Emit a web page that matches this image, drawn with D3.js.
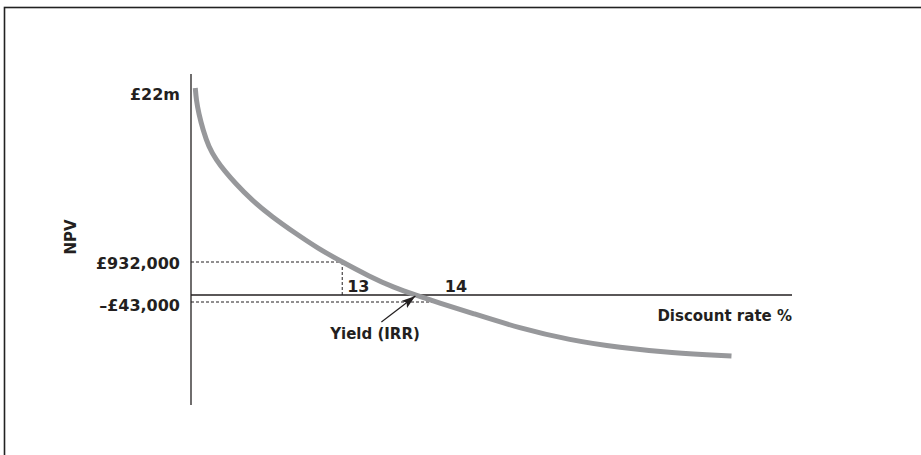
<!DOCTYPE html>
<html>
<head>
<meta charset="utf-8">
<script src="https://d3js.org/d3.v7.min.js"></script>
<style>
  body { margin: 0; background: #fff; }
  svg text { font-family: "DejaVu Sans", sans-serif; font-weight: bold; fill: #231f20; }
</style>
</head>
<body>
<svg width="921" height="455"></svg>
<script>
// discount rate (%) and NPV (£m)
var rates = [11.494, 11.504, 11.529, 11.573, 11.631, 11.709, 11.795, 11.901, 12.07, 12.28, 12.52, 12.75, 13.00, 13.27, 13.54, 13.75, 14.00, 14.31, 14.82, 15.33, 15.85, 16.36, 16.99];
var npv   = [22.0, 20.55, 18.94, 16.91, 14.89, 13.28, 11.95, 10.50, 8.44, 6.42, 4.41, 2.59, 0.932, 0.537, 0.198, 0.0, -0.098, -0.618, -1.483, -2.124, -2.546, -2.82, -3.0];

// y tick values and labels (chart is schematic, not to scale)
var yTicks = [22, 0.932, -0.043];
var yLabels = ["£22m", "£932,000", "–£43,000"];

// x tick values and labels
var xTicks = [13, 14];
var xLabels = ["13", "14"];

var irr = 13.75;

var svg = d3.select('svg');

// border
svg.append('rect')
    .attr('x', 4.5).attr('y', 7.5)
    .attr('width', 940).attr('height', 470)
    .attr('fill', 'none')
    .attr('stroke', '#222')
    .attr('stroke-width', 1.6);

var scaleX = d3.scaleLinear().domain([11.45, 17.6]).range([191, 791]);
// piecewise scale, the drawing is schematic
var scaleY = d3.scaleLinear().domain([-3, -0.043, 0, 0.932, 22]).range([356, 302, 295, 262, 88]);

// axes
svg.append('line')
    .attr('x1', scaleX(11.45)).attr('x2', scaleX(11.45))
    .attr('y1', 74).attr('y2', 405)
    .attr('stroke', '#231f20').attr('stroke-width', 1.3);

svg.append('line')
    .attr('x1', scaleX(11.45)).attr('x2', 792)
    .attr('y1', scaleY(0)).attr('y2', scaleY(0))
    .attr('stroke', '#231f20').attr('stroke-width', 1.3);

// dashed guide lines
var dash = '3,2';
svg.append('line')
    .attr('x1', scaleX(11.45)).attr('x2', scaleX(xTicks[0]))
    .attr('y1', scaleY(yTicks[1])).attr('y2', scaleY(yTicks[1]))
    .attr('stroke', '#231f20').attr('stroke-dasharray', dash);
svg.append('line')
    .attr('x1', scaleX(xTicks[0])).attr('x2', scaleX(xTicks[0]))
    .attr('y1', scaleY(yTicks[1])).attr('y2', scaleY(0))
    .attr('stroke', '#231f20').attr('stroke-dasharray', dash);
svg.append('line')
    .attr('x1', scaleX(11.45)).attr('x2', scaleX(xTicks[1]))
    .attr('y1', scaleY(yTicks[2])).attr('y2', scaleY(yTicks[2]))
    .attr('stroke', '#231f20').attr('stroke-dasharray', dash);

// NPV curve
var pts = rates.map(function(r, i){ return [r, npv[i]]; });
var line = d3.line()
    .x(function(d){ return scaleX(d[0]); })
    .y(function(d){ return scaleY(d[1]); })
    .curve(d3.curveBasis);

svg.append('path')
    .datum(pts)
    .attr('d', line)
    .attr('fill', 'none')
    .attr('stroke', '#97989b')
    .attr('stroke-width', 5);

// y labels
var nudge = [12, 7, 9];
svg.selectAll('.ylab')
    .data(yTicks)
    .enter()
    .append('text')
    .attr('class', 'ylab')
    .attr('x', 180)
    .attr('y', function(d, i){ return scaleY(d) + nudge[i]; })
    .attr('text-anchor', 'end')
    .attr('font-size', 16)
    .text(function(d, i){ return yLabels[i]; });

// x labels
svg.selectAll('.xlab')
    .data(xTicks)
    .enter()
    .append('text')
    .attr('class', 'xlab')
    .attr('x', function(d){ return scaleX(d) + 5; })
    .attr('y', scaleY(0) - 3)
    .attr('font-size', 16)
    .text(function(d, i){ return xLabels[i]; });

// axis titles
svg.append('text')
    .text('NPV')
    .attr('font-size', 15)
    .attr('text-anchor', 'middle')
    .attr('transform', 'translate(76,237) rotate(-90)');

svg.append('text')
    .text('Discount rate %')
    .attr('font-size', 15)
    .attr('text-anchor', 'end')
    .attr('x', 792)
    .attr('y', 321);

// IRR annotation
svg.append('defs').append('marker')
    .attr('id', 'head')
    .attr('viewBox', '0 0 14 9')
    .attr('refX', 14).attr('refY', 4.5)
    .attr('markerWidth', 14).attr('markerHeight', 9)
    .attr('markerUnits', 'userSpaceOnUse')
    .attr('orient', 'auto')
    .append('path')
    .attr('d', 'M0,0 L14,4.5 L0,9 L3,4.5 Z')
    .attr('fill', '#231f20');

var tipX = scaleX(irr), tipY = scaleY(0) + 1;
svg.append('line')
    .attr('x1', tipX - 34).attr('y1', tipY + 26)
    .attr('x2', tipX).attr('y2', tipY)
    .attr('stroke', '#231f20')
    .attr('stroke-width', 1.2)
    .attr('marker-end', 'url(#head)');

svg.append('text')
    .text('Yield (IRR)')
    .attr('font-size', 15)
    .attr('text-anchor', 'middle')
    .attr('x', 375)
    .attr('y', 339);
</script>
</body>
</html>
